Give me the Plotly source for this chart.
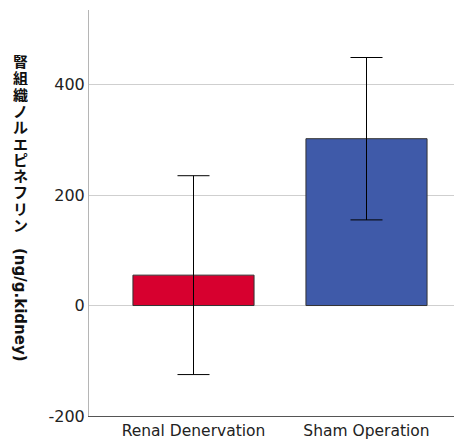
import plotly.graph_objects as go

categories = ["Renal Denervation", "Sham Operation"]
means = [55, 302]
errors = [180, 147]
colors = ["#d7002f", "#3f5aa9"]
y_ticks = [-200, 0, 200, 400]
y_tick_labels = ["-200", "0", "200", "400"]
y_title_jp = "腎組織ノルエピネフリン"
y_title_unit = "(ng/g.kidney)"

# page body has an 8px default margin; figure sized to fill the window
W, H = 454, 431
L, T, B = 81, 2, 23

fig = go.Figure()
fig.add_trace(go.Bar(
    x=[0, 1], y=means, width=0.70,
    marker=dict(color=colors, line=dict(color="#333333", width=1)),
    error_y=dict(type="data", array=errors, visible=True, color="#000000",
                 thickness=1, width=16),
))

fig.update_layout(
    width=W, height=H,
    margin=dict(l=L, r=0, t=T, b=B, autoexpand=False),
    plot_bgcolor="white", paper_bgcolor="white",
    showlegend=False,
    font=dict(family="DejaVu Sans, Noto Sans CJK JP", color="#222222"),
    xaxis=dict(range=[-0.604, 1.552], tickvals=[0, 1], ticktext=categories,
               showgrid=False, zeroline=False, showline=True, linecolor="#555555",
               linewidth=1, ticks="", tickfont=dict(size=15.5, color="#222222"),
               automargin=False),
    yaxis=dict(range=[-200, 535], tickvals=y_ticks, ticktext=y_tick_labels,
               showgrid=True, gridcolor="#cfcfcf", gridwidth=1, zeroline=False,
               showline=True, linecolor="#b5b5b5", linewidth=1, ticks="",
               tickfont=dict(size=16, color="#222222"), automargin=False),
)

# vertical (tategaki-style) title: one upright character per row
for i, ch in enumerate(y_title_jp):
    cy = 53 + 16.3 * i
    fig.add_annotation(
        text="<b>" + ch + "</b>", xref="paper", yref="paper", x=0, y=1,
        xshift=12.7 - L, yshift=-(cy - T), xanchor="center", yanchor="middle",
        showarrow=False, height=16,
        font=dict(family="Noto Sans CJK JP", size=15, color="#111111"),
    )
fig.add_annotation(
    text="<b>" + y_title_unit + "</b>",
    xref="paper", yref="paper", x=0, y=1, xshift=12 - L, yshift=-(297 - T),
    xanchor="center", yanchor="middle", showarrow=False, textangle=90,
    font=dict(family="DejaVu Sans", size=15, color="#111111"),
)

fig.write_html("out.html")
